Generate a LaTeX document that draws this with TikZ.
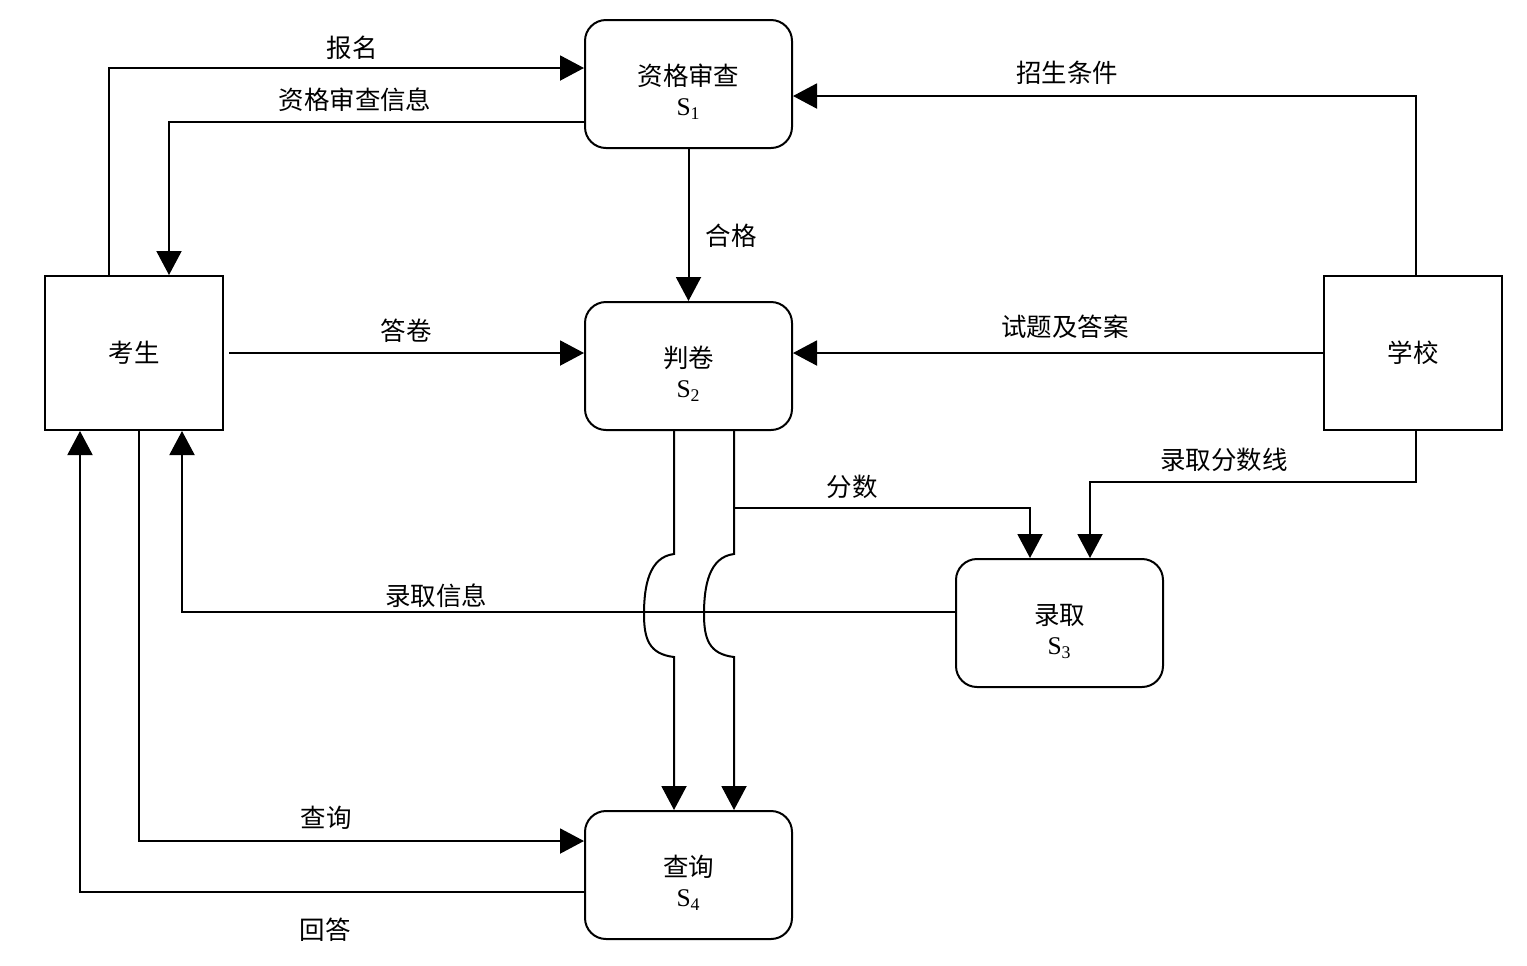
\documentclass[tikz,border=0pt]{standalone}
\usepackage{fontspec}
\setmainfont{Liberation Serif}
\newfontfamily\cjk{Noto Sans CJK SC}
\usetikzlibrary{arrows.meta, positioning, calc}
\newcommand\tstrut{\rule{0pt}{0.75cm}}

\begin{document}
\begin{tikzpicture}[
    proc/.style={rectangle, rounded corners=0.42cm, draw, line width=0.04cm, minimum width=4.14cm, minimum height=2.56cm, align=center, font=\fontsize{14.5}{17}\selectfont},
    ent/.style={rectangle, draw, line width=0.04cm, minimum width=3.56cm, minimum height=3.08cm, font=\fontsize{14.5}{17}\selectfont\cjk},
    lbl/.style={inner sep=1pt, font=\fontsize{14.5}{17}\selectfont\cjk},
    arr/.style={-{Triangle[length=0.48cm, width=0.5cm]}, line width=0.04cm},
]
\useasboundingbox (0,0) rectangle (30.54,-19.3);

% Entities
\node[ent] (ks) at (2.68,-7.06) {考生};
\node[ent] (xx) at (28.26,-7.06) {学校};

% Processes
\node[proc] (s1) at (13.77,-1.68) {{\cjk\tstrut 资格审查}\\S\textsubscript{1}};
\node[proc] (s2) at (13.77,-7.32) {{\cjk\tstrut 判卷}\\S\textsubscript{2}};
\node[proc] (s3) at (21.19,-12.46) {{\cjk\tstrut 录取}\\S\textsubscript{3}};
\node[proc] (s4) at (13.77,-17.5) {{\cjk\tstrut 查询}\\S\textsubscript{4}};

% Arrows
\draw[arr] ([xshift=-0.5cm]ks.north) |- ([yshift=0.32cm]s1.west);
\draw[arr] ([yshift=-0.76cm]s1.west) -| ([xshift=0.7cm]ks.north);
\draw[arr] ([xshift=0.06cm]xx.north) |- ([yshift=-0.24cm]s1.east);
\draw[arr] (s1) -- (s2);
\draw[arr] ([xshift=0.1cm]ks.east) -- (ks.east -| s2.west);
\draw[arr] (xx.west) -- (xx.west -| s2.east);
\draw[arr] ([xshift=0.06cm]xx.south) -- ++(0,-1.02) -| ([xshift=0.61cm]s3.north);
\draw[line width=0.04cm] ([xshift=0.91cm]s2.south) -- ++(0,-1.54) coordinate (fs);
\draw[arr] (fs) -| ([xshift=-0.59cm]s3.north);
\draw[arr] ([yshift=0.22cm]s3.west) -| ([xshift=0.96cm]ks.south);
\draw[arr] ([xshift=0.1cm]ks.south) |- ([yshift=0.68cm]s4.west);
\draw[arr] ([yshift=-0.34cm]s4.west) -| ([xshift=-1.08cm]ks.south);

% S2 -> S4 with hops over the line
\draw[arr] ([xshift=-0.29cm]s2.south) -- ++(0,-2.46)
    .. controls +(-0.5,-0.06) and +(0,0.56) .. ++(-0.6,-1.2)
    .. controls +(0,-0.5) and +(-0.5,0.06) .. ++(0.6,-0.86)
    -- ([xshift=-0.29cm]s4.north);
\draw[arr] ([xshift=0.91cm]s2.south) -- ++(0,-2.46)
    .. controls +(-0.5,-0.06) and +(0,0.56) .. ++(-0.6,-1.2)
    .. controls +(0,-0.5) and +(-0.5,0.06) .. ++(0.6,-0.86)
    -- ([xshift=0.91cm]s4.north);

% Labels
\node[lbl] (lbm) at (7.04,-0.96) {报名};
\node[lbl] (lzg) at (7.1,-2.0) {资格审查信息};
\node[lbl] (lzs) at (21.34,-1.46) {招生条件};
\node[lbl] (lhg) at (14.62,-4.72) {合格};
\node[lbl] (ldj) at (8.12,-6.62) {答卷};
\node[lbl] (lst) at (21.3,-6.54) {试题及答案};
\node[lbl] (lfx) at (24.48,-9.2) {录取分数线};
\node[lbl] (lfs) at (17.04,-9.74) {分数};
\node[lbl] (llq) at (8.72,-11.92) {录取信息};
\node[lbl] (lcx) at (6.52,-16.36) {查询};
\node[lbl] (lhd) at (6.5,-18.6) {回答};
\end{tikzpicture}
\end{document}
